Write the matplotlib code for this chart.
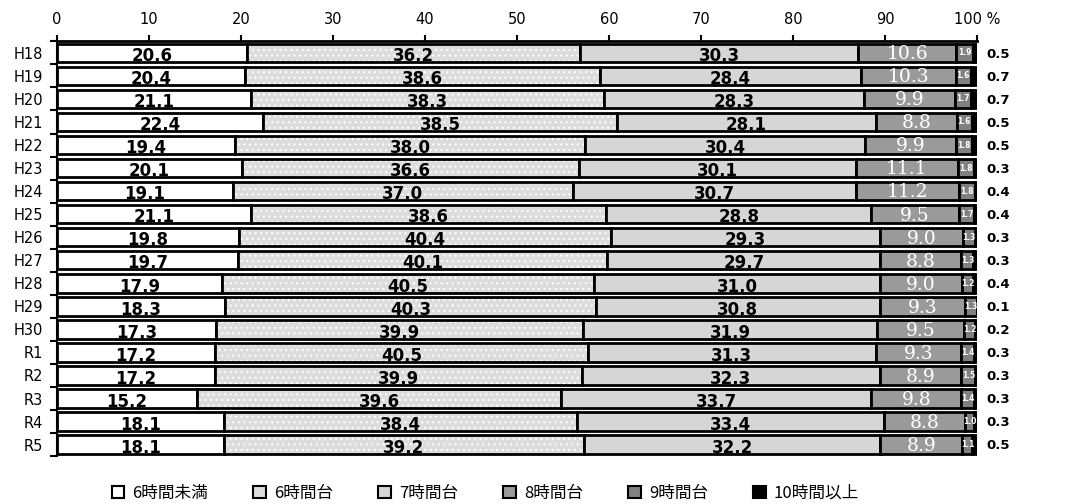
import matplotlib
matplotlib.use("Agg")
from matplotlib import pyplot as plt
from matplotlib.patches import Patch
import numpy as np

plt.rcParams['font.family'] = ['DejaVu Sans', 'Noto Sans CJK JP']
plt.rcParams['hatch.linewidth'] = 0.8

years = ["H18", "H19", "H20", "H21", "H22", "H23", "H24", "H25", "H26",
         "H27", "H28", "H29", "H30", "R1", "R2", "R3", "R4", "R5"]
series_names = ["6時間未満", "6時間台", "7時間台", "8時間台", "9時間台", "10時間以上"]

under6 = [20.6, 20.4, 21.1, 22.4, 19.4, 20.1, 19.1, 21.1, 19.8, 19.7, 17.9, 18.3, 17.3, 17.2, 17.2, 15.2, 18.1, 18.1]
h6 = [36.2, 38.6, 38.3, 38.5, 38.0, 36.6, 37.0, 38.6, 40.4, 40.1, 40.5, 40.3, 39.9, 40.5, 39.9, 39.6, 38.4, 39.2]
h7 = [30.3, 28.4, 28.3, 28.1, 30.4, 30.1, 30.7, 28.8, 29.3, 29.7, 31.0, 30.8, 31.9, 31.3, 32.3, 33.7, 33.4, 32.2]
h8 = [10.6, 10.3, 9.9, 8.8, 9.9, 11.1, 11.2, 9.5, 9.0, 8.8, 9.0, 9.3, 9.5, 9.3, 8.9, 9.8, 8.8, 8.9]
h9 = [1.9, 1.6, 1.7, 1.6, 1.8, 1.8, 1.8, 1.7, 1.3, 1.3, 1.2, 1.3, 1.2, 1.4, 1.5, 1.4, 1.0, 1.1]
h10 = [0.5, 0.7, 0.7, 0.5, 0.5, 0.3, 0.4, 0.4, 0.3, 0.3, 0.4, 0.1, 0.2, 0.3, 0.3, 0.3, 0.3, 0.5]

data = [under6, h6, h7, h8, h9, h10]
colors = ["#ffffff", "#dcdcdc", "#d6d6d6", "#9a9a9a", "#808080", "#000000"]
hatches = [None, "...", None, None, None, None]

fig = plt.figure(figsize=(10.67, 5.04), dpi=100)
ax = fig.add_axes([0.0534, 0.095, 0.8623, 0.823])

y = np.arange(len(years))
left = np.zeros(len(years))
bh = 0.8
for i, vals in enumerate(data):
    vals = np.array(vals)
    # fill (hatch drawn in white for the dotted texture)
    ax.barh(y, vals, left=left, height=bh, color=colors[i], edgecolor="white",
            hatch=hatches[i], linewidth=0)
    ax.barh(y, vals, left=left, height=bh, fill=False, edgecolor="black", linewidth=2)
    for j, v in enumerate(vals):
        cx = left[j] + v / 2
        if i < 3:
            ax.text(cx, j + 0.14, "%.1f" % v, ha="center", va="center",
                    fontsize=12, fontweight="bold", color="black")
        elif i == 3:
            ax.text(cx, j + 0.06, "%.1f" % v, ha="center", va="center",
                    fontsize=13.5, color="white", family="DejaVu Serif")
        elif i == 4:
            ax.text(cx, j, "%.1f" % v, ha="center", va="center",
                    fontsize=5.5, fontweight="bold", color="white")
        else:
            ax.text(101.0, j + 0.05, "%.1f" % v, ha="left", va="center",
                    fontsize=9.5, fontweight="bold", color="black")
    left = left + vals

ax.set_xlim(0, 100)
ax.set_ylim(len(years) - 0.5, -0.5)
ax.xaxis.tick_top()
ax.set_xticks(np.arange(0, 101, 10))
ax.set_xticklabels([str(t) if t < 100 else "100 %" for t in range(0, 101, 10)])
ax.tick_params(axis="x", direction="out", length=4, width=1.5, labelsize=10.5, pad=6)
ax.set_yticks(y)
ax.set_yticklabels(years)
ax.set_yticks(np.arange(-0.5, len(years), 1), minor=True)
ax.tick_params(axis="y", which="major", length=0, labelsize=10.5, pad=10)
ax.tick_params(axis="y", which="minor", direction="out", length=5, width=1.5)
for s in ["right", "bottom"]:
    ax.spines[s].set_visible(False)
ax.spines["top"].set_linewidth(2)
ax.spines["left"].set_linewidth(1.5)

handles = [Patch(facecolor=c, edgecolor="black", linewidth=1.5) for c in colors]
fig.legend(handles, series_names, loc="lower center", bbox_to_anchor=(0.455, -0.025),
           ncol=6, frameon=False, handlelength=0.75, handleheight=0.75,
           columnspacing=2.7, handletextpad=0.5,
           prop={"family": ["Noto Sans CJK JP"], "size": 12})

fig.savefig("out.png")
